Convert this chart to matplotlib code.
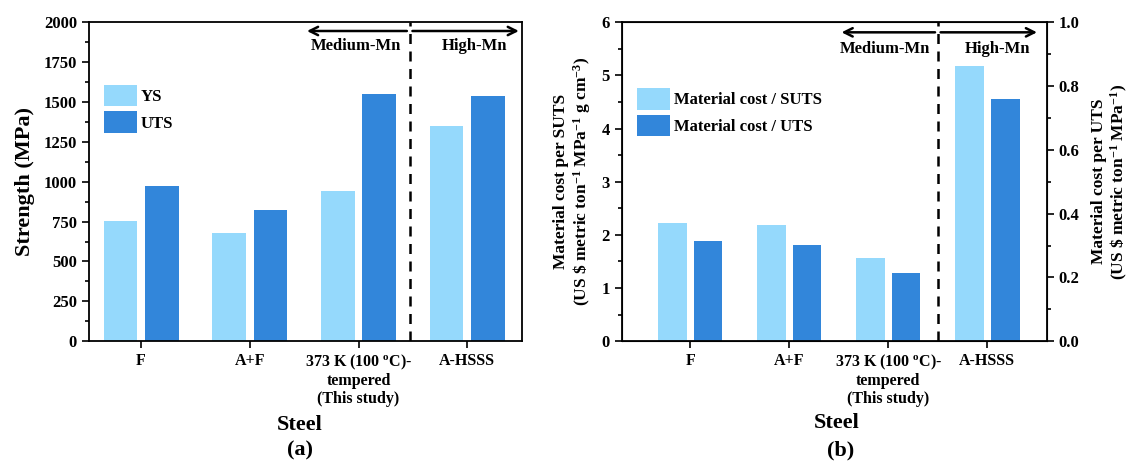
import numpy as np
import matplotlib
matplotlib.use("Agg")
import matplotlib.pyplot as plt
from matplotlib.ticker import MultipleLocator

plt.rcParams['font.family'] = 'Liberation Serif'
plt.rcParams['font.weight'] = 'bold'
plt.rcParams['axes.labelweight'] = 'bold'
plt.rcParams['mathtext.fontset'] = 'custom'
plt.rcParams['mathtext.rm'] = 'Liberation Serif:bold'
plt.rcParams['mathtext.bf'] = 'Liberation Serif:bold'
plt.rcParams['mathtext.it'] = 'Liberation Serif:bold'

# data
steels = ['F', 'A+F', '373 K (100 $^{\\mathrm{o}}$C)-\ntempered\n(This study)', 'A-HSSS']
ys = [755, 678, 940, 1350]
uts = [975, 820, 1550, 1540]
cost_suts = [2.23, 2.19, 1.57, 5.18]
cost_uts = [0.313, 0.302, 0.215, 0.758]

light = '#95D9FC'
dark = '#3286DA'

fig = plt.figure(figsize=(11.39, 4.63), dpi=100)
x = np.arange(len(steels))

# ---- panel (a)
ax1 = fig.add_axes([0.078, 0.263, 0.380, 0.689])
w = 0.31
ax1.bar(x - 0.19, ys, w, color=light, label='YS')
ax1.bar(x + 0.19, uts, w, color=dark, label='UTS')
ax1.set_xlim(-0.48, 3.5)
ax1.set_ylim(0, 2000)
ax1.yaxis.set_major_locator(MultipleLocator(250))
ax1.yaxis.set_minor_locator(MultipleLocator(125))
ax1.set_xticks(x)
ax1.set_xticklabels(steels, fontsize=11.5, linespacing=1.1)
ax1.tick_params(axis='y', labelsize=12)
ax1.tick_params(which='both', direction='out', width=1.2)
ax1.tick_params(which='major', length=5)
ax1.tick_params(which='minor', length=3)
for s in ax1.spines.values():
    s.set_linewidth(1.3)
ax1.set_ylabel('Strength (MPa)', fontsize=16, labelpad=6)
fig.text(0.263, 0.083, 'Steel', ha='center', va='center', fontsize=16, fontweight='bold')
fig.text(0.263, 0.026, '(a)', ha='center', va='center', fontsize=16, fontweight='bold')
ax1.axvline(2.47, color='black', ls=(0, (4, 3)), lw=1.8)
arr = dict(arrowstyle='->,head_length=0.6,head_width=0.3', lw=1.8, color='black')
ax1.annotate('', xy=(1.5, 1945), xytext=(2.47, 1945), arrowprops=arr)
ax1.annotate('', xy=(3.5, 1945), xytext=(2.47, 1945), arrowprops=arr)
ax1.text(1.98, 1850, 'Medium-Mn', ha='center', va='center', fontsize=12)
ax1.text(3.07, 1850, 'High-Mn', ha='center', va='center', fontsize=12)
ax1.legend(loc='upper left', bbox_to_anchor=(0.0, 0.85), frameon=False,
           fontsize=12, handlelength=2.0, handleheight=1.6,
           labelspacing=0.3, handletextpad=0.2)

# ---- panel (b)
ax2 = fig.add_axes([0.546, 0.263, 0.373, 0.689])
ax3 = ax2.twinx()
w2 = 0.29
b1 = ax2.bar(x - 0.18, cost_suts, w2, color=light, label='Material cost / SUTS')
b2 = ax3.bar(x + 0.18, cost_uts, w2, color=dark, label='Material cost / UTS')
ax2.set_xlim(-0.69, 3.6)
ax2.set_ylim(0, 6)
ax3.set_ylim(0, 1.0)
ax2.yaxis.set_major_locator(MultipleLocator(1))
ax2.yaxis.set_minor_locator(MultipleLocator(0.5))
ax3.yaxis.set_major_locator(MultipleLocator(0.2))
ax3.yaxis.set_minor_locator(MultipleLocator(0.1))
ax3.yaxis.set_major_formatter(matplotlib.ticker.FormatStrFormatter('%.1f'))
ax2.set_xticks(x)
ax2.set_xticklabels(steels, fontsize=11.5, linespacing=1.1)
for a in (ax2, ax3):
    a.tick_params(axis='y', labelsize=12)
    a.tick_params(which='both', direction='out', width=1.2)
    a.tick_params(which='major', length=5)
    a.tick_params(which='minor', length=3)
for s in ax3.spines.values():
    s.set_linewidth(1.3)
ax2.set_ylabel('Material cost per SUTS\n(US \\$ metric ton$^{-1}$ MPa$^{-1}$ g cm$^{-3}$)',
               fontsize=12.5, labelpad=6, linespacing=1.15)
ax3.set_ylabel('Material cost per UTS\n(US \\$ metric ton$^{-1}$ MPa$^{-1}$)',
               fontsize=12.5, labelpad=8, linespacing=1.15)
fig.text(0.735, 0.087, 'Steel', ha='center', va='center', fontsize=16, fontweight='bold')
fig.text(0.738, 0.026, '(b)', ha='center', va='center', fontsize=16, fontweight='bold')
ax2.axvline(2.5, color='black', ls=(0, (4, 3)), lw=1.8)
ax2.annotate('', xy=(1.5, 5.81), xytext=(2.5, 5.81), arrowprops=arr)
ax2.annotate('', xy=(3.53, 5.81), xytext=(2.5, 5.81), arrowprops=arr)
ax2.text(1.97, 5.5, 'Medium-Mn', ha='center', va='center', fontsize=12)
ax2.text(3.1, 5.5, 'High-Mn', ha='center', va='center', fontsize=12)
ax3.legend(handles=[b1, b2], loc='upper left', bbox_to_anchor=(0.0, 0.84),
           frameon=False, fontsize=12, handlelength=2.0, handleheight=1.6,
           labelspacing=0.3, handletextpad=0.2)

fig.savefig('out.png', dpi=100)
